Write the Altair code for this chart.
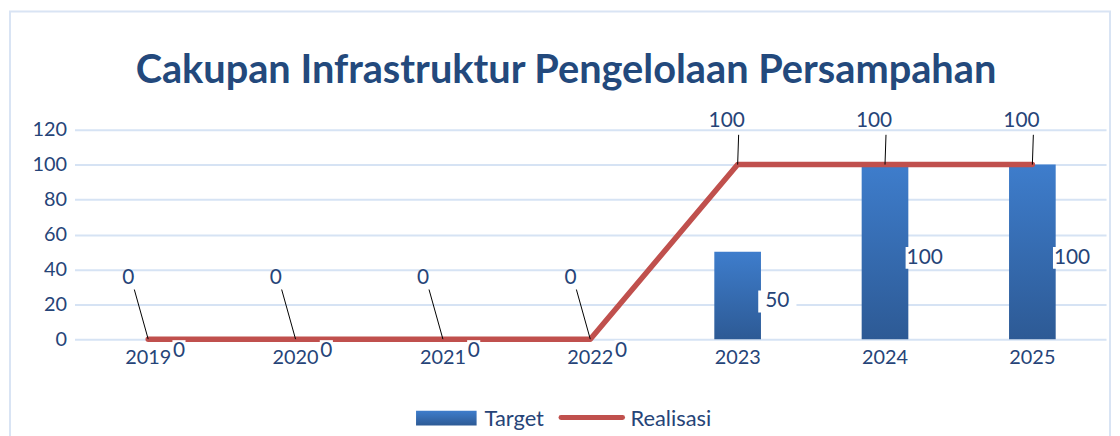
import altair as alt
import pandas as pd

# ---- data ----
years = ["2019", "2020", "2021", "2022", "2023", "2024", "2025"]
target = [0, 0, 0, 0, 50, 100, 100]
realisasi = [0, 0, 0, 0, 100, 100, 100]
series = ["Target", "Realisasi"]
y_ticks = [0, 20, 40, 60, 80, 100, 120]
title_text = ["Cakupan Infrastruktur Pengelolaan Persampahan"]

df = pd.DataFrame({"year": years, "Target": target, "Realisasi": realisasi})

# ---- styles ----
FONT = "Lato"
TXT = "#264478"
TITLE_C = "#23497C"
RED = "#C0504D"
GRID = "#D6E3F4"
bar_grad = alt.Gradient(
    gradient="linear",
    stops=[alt.GradientStop(color="#3E7DCC", offset=0),
           alt.GradientStop(color="#2D5A95", offset=1)],
    x1=0, x2=0, y1=0, y2=1,
)

x_enc = alt.X("year:N", sort=years,
              scale=alt.Scale(paddingInner=0, paddingOuter=0, round=False),
              axis=alt.Axis(title=None, labelAngle=0, domain=False, ticks=False,
                            labelPadding=9, labelFontSize=20, labelFont=FONT,
                            labelColor=TXT, grid=False))
y_scale = alt.Scale(domain=[0, 120], nice=False)
y_axis = alt.Axis(title=None, values=y_ticks, domain=False, ticks=False,
                  labelPadding=8, labelFontSize=20, labelFont=FONT,
                  labelColor=TXT, grid=True, gridColor=GRID, gridWidth=2)

def yq(field):
    return alt.Y(f"{field}:Q", scale=y_scale, axis=y_axis)

base = alt.Chart(df)

bars = base.mark_bar(size=47, color=bar_grad).encode(x=x_enc, y=yq("Target"))

line = base.mark_line(color=RED, strokeWidth=5.5, strokeCap="round",
                      strokeJoin="round").encode(x=x_enc, y=yq("Realisasi"))

# leader lines + labels for Realisasi
zero_r = base.transform_filter("datum.Realisasi == 0")
hund_r = base.transform_filter("datum.Realisasi > 0")

lead0 = zero_r.mark_rule(color="black", strokeWidth=1, x2Offset=-14, y2Offset=-50).encode(
    x=x_enc, x2=alt.X2("year", bandPosition=0.5), y=yq("Realisasi"), y2="Realisasi")
lead1 = hund_r.mark_rule(color="black", strokeWidth=1, x2Offset=1, y2Offset=-30).encode(
    x=x_enc, x2=alt.X2("year", bandPosition=0.5), y=yq("Realisasi"), y2="Realisasi")

txt0 = zero_r.mark_text(font=FONT, fontSize=21, color=TXT, dx=-20, dy=-62,
                        baseline="middle").encode(x=x_enc, y=yq("Realisasi"), text="Realisasi:Q")
txt1 = hund_r.mark_text(font=FONT, fontSize=21, color=TXT, dx=-11, dy=-44,
                        baseline="middle").encode(x=x_enc, y=yq("Realisasi"), text="Realisasi:Q")

# Target labels with white boxes
zero_t = base.transform_filter("datum.Target == 0")
pos_t = base.transform_filter("datum.Target > 0").transform_calculate(half="datum.Target / 2")

box_small = "M-0.6,-1L0.6,-1L0.6,1L-0.6,1Z"
box_wide = "M-1.75,-1L1.75,-1L1.75,1L-1.75,1Z"

box0 = zero_t.mark_point(shape=box_small, size=484, filled=True, fill="white",
                         opacity=1, strokeWidth=0, xOffset=31, yOffset=12).encode(
    x=x_enc, y=yq("Target"))
lab0 = zero_t.mark_text(font=FONT, fontSize=21, color=TXT, dx=31, dy=12,
                        baseline="middle").encode(x=x_enc, y=yq("Target"), text="Target:Q")
box1 = pos_t.mark_point(shape=box_wide, size=484, filled=True, fill="white",
                        opacity=1, strokeWidth=0, xOffset=40, yOffset=6).encode(
    x=x_enc, y=alt.Y("half:Q", scale=y_scale, axis=y_axis))
lab1 = pos_t.mark_text(font=FONT, fontSize=21, color=TXT, dx=40, dy=6,
                       baseline="middle").encode(
    x=x_enc, y=alt.Y("half:Q", scale=y_scale, axis=y_axis), text="Target:Q")

# frame, title, legend
frame = alt.Chart(pd.DataFrame({"k": [1]})).mark_rect(
    fillOpacity=0, stroke="#D9E4F4", strokeWidth=2).encode(
    x=alt.value(-65), y=alt.value(-119), x2=alt.value(1043), y2=alt.value(310))

title = alt.Chart(pd.DataFrame({"t": title_text})).mark_text(
    font=FONT, fontSize=40, fontWeight="bold", color=TITLE_C,
    align="center", baseline="alphabetic").encode(
    x=alt.value(495), y=alt.value(-47), text="t:N")

leg_df_t = pd.DataFrame({"s": [series[0]]})
leg_df_r = pd.DataFrame({"s": [series[1]]})
leg_rect = alt.Chart(leg_df_t).mark_rect(fill=bar_grad).encode(
    x=alt.value(344), x2=alt.value(405), y=alt.value(283), y2=alt.value(298))
leg_t = alt.Chart(leg_df_t).mark_text(font=FONT, fontSize=22, color=TXT,
                                      align="left", baseline="alphabetic").encode(
    x=alt.value(413), y=alt.value(298), text="s:N")
leg_line = alt.Chart(leg_df_r).mark_rule(color=RED, strokeWidth=5, strokeCap="round").encode(
    x=alt.value(490), x2=alt.value(552), y=alt.value(290))
leg_r = alt.Chart(leg_df_r).mark_text(font=FONT, fontSize=22, color=TXT,
                                      align="left", baseline="alphabetic").encode(
    x=alt.value(560), y=alt.value(298), text="s:N")

chart = alt.layer(
    frame, bars, line, lead0, lead1, txt0, txt1, box0, lab0, box1, lab1,
    title, leg_rect, leg_t, leg_line, leg_r,
).properties(
    width=1039, height=211,
    padding={"left": 67, "top": 121, "right": 6, "bottom": 96},
    autosize=alt.AutoSizeParams(type="none"),
).configure_view(stroke=None)

chart.save("out.html", embed_options={"renderer": "svg", "actions": False})
